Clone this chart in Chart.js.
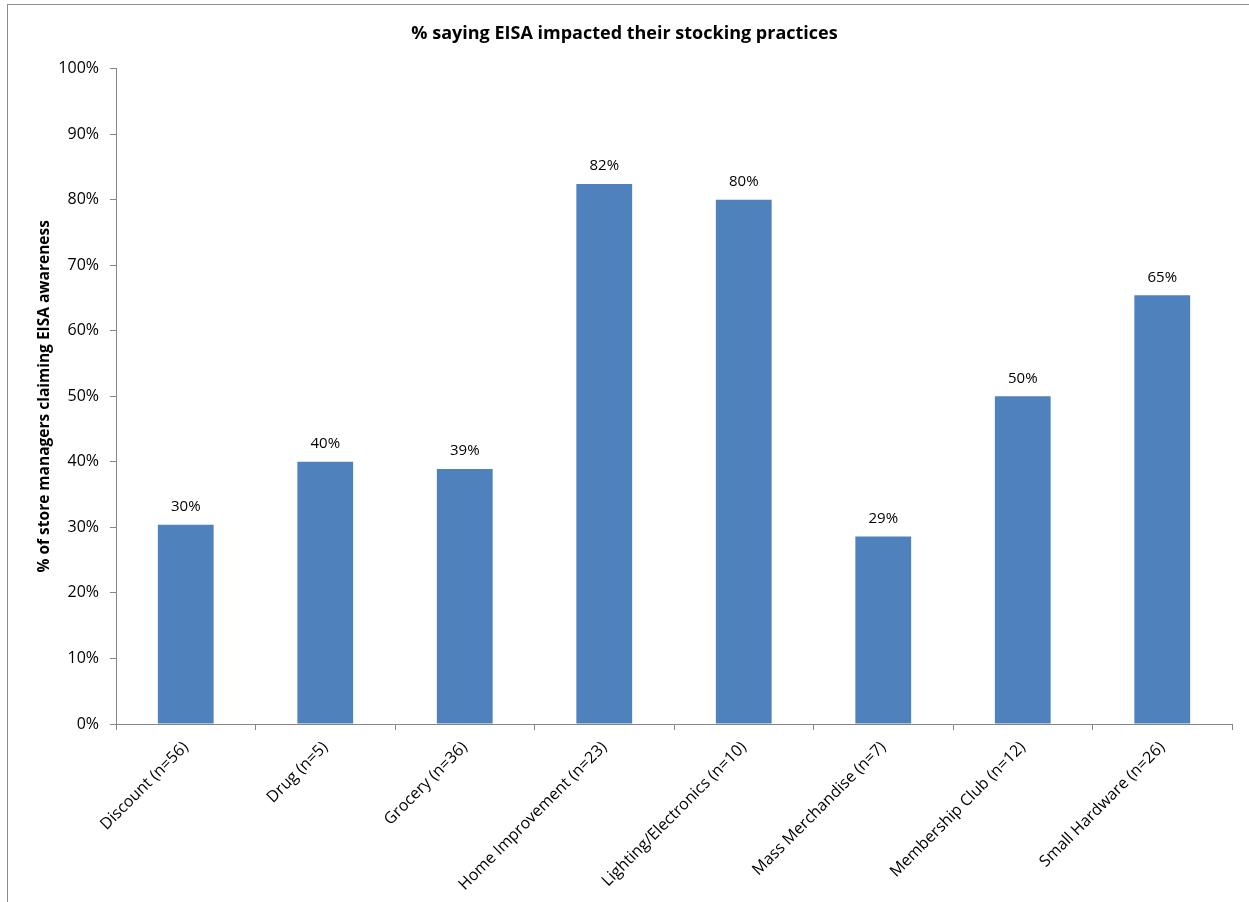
<!DOCTYPE html>
<html>
<head>
<meta charset="utf-8">
<script src="https://cdn.jsdelivr.net/npm/chart.js@4/dist/chart.umd.min.js"></script>
<style>
html,body{margin:0;padding:0;background:#fff;}
canvas{display:block;}
</style>
</head>
<body>
<canvas id="c" width="1249" height="902"></canvas>
<script>
const categories = ["Discount (n=56)", "Drug (n=5)", "Grocery (n=36)", "Home Improvement (n=23)", "Lighting/Electronics (n=10)", "Mass Merchandise (n=7)", "Membership Club (n=12)", "Small Hardware (n=26)"];
const values = [30.4, 40, 38.9, 82.4, 80, 28.6, 50, 65.4];
const yTicks = [0, 10, 20, 30, 40, 50, 60, 70, 80, 90, 100];
const chartTitle = "% saying EISA impacted their stocking practices";
const yTitle = "% of store managers claiming EISA awareness";

const FONT = "'Open Sans', 'Liberation Sans', sans-serif";
const AXIS = "#868686";

const framePlugin = {
  id: 'frame',
  beforeDraw(chart) {
    const ctx = chart.ctx;
    ctx.save();
    ctx.fillStyle = '#fff';
    ctx.fillRect(0, 0, chart.width, chart.height);
    ctx.strokeStyle = '#8c8c8c';
    ctx.lineWidth = 1;
    ctx.strokeRect(7.5, 4.5, 1400, 1100);
    ctx.restore();
  }
};

const labelPlugin = {
  id: 'barLabels',
  afterDatasetsDraw(chart) {
    const ctx = chart.ctx;
    const meta = chart.getDatasetMeta(0);
    ctx.save();
    ctx.font = "15px " + FONT;
    ctx.fillStyle = '#000';
    ctx.textAlign = 'center';
    ctx.textBaseline = 'middle';
    meta.data.forEach((bar, i) => {
      ctx.fillText(Math.round(values[i]) + '%', bar.x, bar.y - 18);
    });
    ctx.restore();
  }
};

new Chart(document.getElementById('c'), {
  type: 'bar',
  data: {
    labels: categories,
    datasets: [{
      data: values,
      backgroundColor: '#4F81BD',
      borderWidth: 0,
      categoryPercentage: 1.0,
      barPercentage: 0.4,
      yAxisID: 'y'
    }]
  },
  options: {
    responsive: false,
    animation: false,
    devicePixelRatio: 1,
    layout: { padding: 0 },
    plugins: {
      legend: { display: false },
      tooltip: { enabled: false },
      title: {
        display: true,
        text: chartTitle,
        color: '#000',
        font: { family: FONT, size: 18, weight: 'bold', lineHeight: 1.2 },
        padding: { top: 23, bottom: 24 }
      }
    },
    scales: {
      x: {
        grid: { display: true, drawOnChartArea: false, drawTicks: true, tickLength: 6, color: AXIS, offset: true },
        border: { display: true, color: AXIS, width: 1 },
        ticks: {
          color: '#000',
          font: { family: FONT, size: 16 },
          maxRotation: 45,
          minRotation: 45,
          autoSkip: false,
          padding: 8
        },
        afterFit(scale) { scale.height = 178; }
      },
      y: {
        min: 0,
        max: 100,
        afterBuildTicks(scale) { scale.ticks = yTicks.map(v => ({ value: v })); },
        grid: { display: true, drawOnChartArea: false, drawTicks: true, tickLength: 6, color: AXIS },
        border: { display: true, color: AXIS, width: 1 },
        ticks: {
          color: '#000',
          font: { family: FONT, size: 16 },
          padding: 11,
          callback: v => v + '%'
        },
        title: {
          display: true,
          text: yTitle,
          color: '#000',
          font: { family: FONT, size: 15.5, weight: 'bold', lineHeight: 1.2 },
          padding: { top: 35, bottom: 0 }
        },
        afterFit(scale) { scale.width = 116; }
      },
      yRight: {
        type: 'linear',
        position: 'right',
        display: true,
        min: 0,
        max: 100,
        grid: { display: false, drawTicks: false },
        border: { display: false },
        ticks: { display: false },
        afterFit(scale) { scale.width = 17; }
      }
    }
  },
  plugins: [framePlugin, labelPlugin]
});
</script>
</body>
</html>
